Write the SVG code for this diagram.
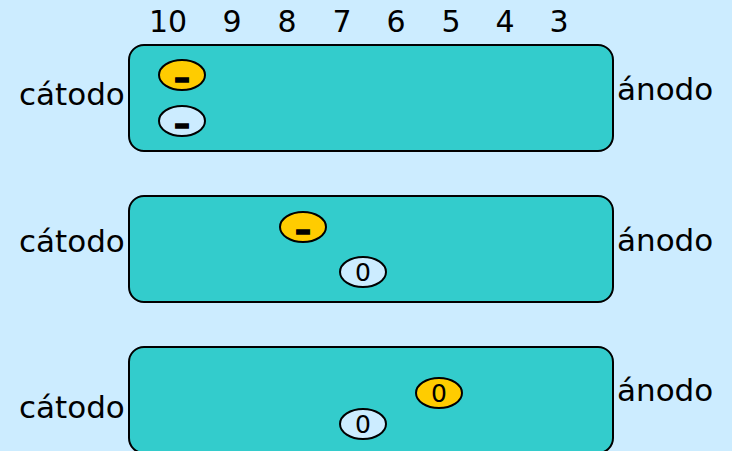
<svg xmlns="http://www.w3.org/2000/svg" width="732" height="451" viewBox="0 0 732 451">
<style>
.lbl{font-family:"DejaVu Sans",Verdana,sans-serif;font-size:31px;fill:#000}
.num{font-family:"DejaVu Sans",Verdana,sans-serif;font-size:30px;fill:#000;text-anchor:middle}
.box{fill:#33CCCC;stroke:#000;stroke-width:2}
.y{fill:#FFCC00;stroke:#000;stroke-width:2}
.w{fill:#CCECFF;stroke:#000;stroke-width:2}
.m{font-family:"DejaVu Sans",Verdana,sans-serif;font-size:32px;font-weight:bold;fill:#000;stroke:#000;stroke-width:1.4;text-anchor:middle}
.z{font-family:"DejaVu Sans",Verdana,sans-serif;font-size:25px;fill:#000;text-anchor:middle}
</style>
<rect width="732" height="451" fill="#CCECFF"/>
<g id="scale">
<text class="num" x="168" y="32">10</text>
<text class="num" x="232" y="32">9</text>
<text class="num" x="287" y="32">8</text>
<text class="num" x="342" y="32">7</text>
<text class="num" x="396" y="32">6</text>
<text class="num" x="451" y="32">5</text>
<text class="num" x="505" y="32">4</text>
<text class="num" x="559" y="32">3</text>
</g>
<g id="row1">
<rect class="box" x="129" y="45" width="484" height="106" rx="15"/>
<text class="lbl" x="19" y="105">cátodo</text>
<text class="lbl" x="617" y="100">ánodo</text>
<ellipse class="y" cx="182" cy="75" rx="23" ry="15"/>
<text class="m" x="182" y="89">–</text>
<ellipse class="w" cx="182" cy="121" rx="23" ry="15"/>
<text class="m" x="182" y="135">–</text>
</g>
<g id="row2">
<rect class="box" x="129" y="196" width="484" height="106" rx="15"/>
<text class="lbl" x="19" y="252">cátodo</text>
<text class="lbl" x="617" y="251">ánodo</text>
<ellipse class="y" cx="303" cy="227" rx="23" ry="15"/>
<text class="m" x="303" y="241">–</text>
<ellipse class="w" cx="363" cy="272" rx="23" ry="15"/>
<text class="z" x="363" y="281">0</text>
</g>
<g id="row3">
<rect class="box" x="129" y="347" width="484" height="106" rx="15"/>
<text class="lbl" x="19" y="418">cátodo</text>
<text class="lbl" x="617" y="401">ánodo</text>
<ellipse class="y" cx="439" cy="393" rx="23" ry="15"/>
<text class="z" x="439" y="402">0</text>
<ellipse class="w" cx="363" cy="424" rx="23" ry="15"/>
<text class="z" x="363" y="433">0</text>
</g>
</svg>
